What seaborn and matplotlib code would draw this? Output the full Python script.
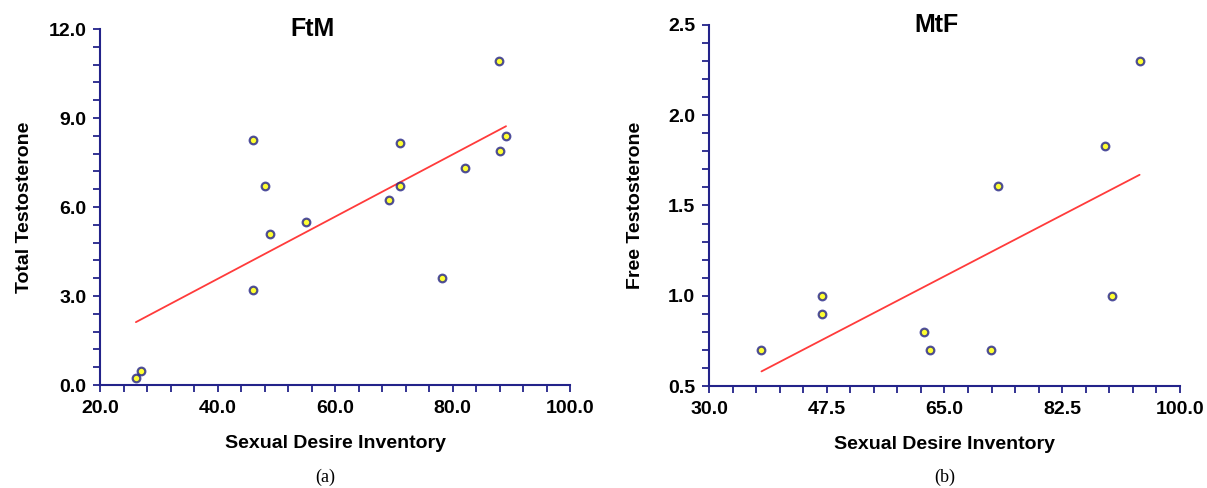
import matplotlib
matplotlib.use("Agg")
import matplotlib.pyplot as plt
import seaborn as sns
import pandas as pd
from matplotlib.ticker import MultipleLocator, FormatStrFormatter

# FtM panel: sexual desire inventory vs total testosterone
ftm_sdi = [26.1, 26.9, 46.0, 46.0, 48.0, 49.0, 55.1, 69.1, 71.1, 71.1, 78.2, 82.2, 88.1, 89.1, 87.9]
ftm_tt = [0.23, 0.46, 8.25, 3.22, 6.70, 5.10, 5.48, 6.24, 8.17, 6.70, 3.61, 7.31, 7.88, 8.39, 10.92]

# MtF panel: sexual desire inventory vs free testosterone
mtf_sdi = [37.8, 46.8, 46.8, 61.9, 62.9, 71.9, 72.9, 88.9, 89.9, 94.0]
mtf_ft = [0.70, 1.00, 0.90, 0.80, 0.70, 0.70, 1.61, 1.83, 1.00, 2.30]

df_ftm = pd.DataFrame({"sdi": ftm_sdi, "t": ftm_tt})
df_mtf = pd.DataFrame({"sdi": mtf_sdi, "t": mtf_ft})

sns.set_style("ticks", {"text.color": "black", "xtick.color": "black", "ytick.color": "black",
                        "axes.labelcolor": "black"})
plt.rcParams["font.family"] = ["Liberation Sans", "DejaVu Sans"]

navy = "#23238a"

fig = plt.figure(figsize=(12.07, 4.88), dpi=100)
ax1 = fig.add_axes([0.0829, 0.211, 0.3894, 0.7295])
ax2 = fig.add_axes([0.5874, 0.209, 0.3902, 0.740])

# ax, data, title, ylabel, xlim, ylim, x major, x minor, y major, y minor, title x, ylabel pad
panels = [
    (ax1, df_ftm, "FtM", "Total Testosterone", (20, 100), (0, 12), 20, 4, 3, 0.6, 0.453, 11),
    (ax2, df_mtf, "MtF", "Free Testosterone", (30, 100), (0.5, 2.5), 17.5, 3.5, 0.5, 0.1, 0.484, 17),
]

for ax, d, title, ylab, xlim, ylim, xmaj, xmin, ymaj, ymin, tx, ypad in panels:
    sns.regplot(data=d, x="sdi", y="t", ax=ax, ci=None,
                scatter_kws={"s": 30, "facecolor": "#ffff00", "edgecolor": navy,
                             "linewidths": 1.6, "zorder": 3},
                line_kws={"color": "#ff3b3b", "lw": 1.3})
    ax.set_xlim(*xlim)
    ax.set_ylim(*ylim)
    ax.xaxis.set_major_locator(MultipleLocator(xmaj, offset=xlim[0]))
    ax.xaxis.set_minor_locator(MultipleLocator(xmin, offset=xlim[0]))
    ax.yaxis.set_major_locator(MultipleLocator(ymaj, offset=ylim[0]))
    ax.yaxis.set_minor_locator(MultipleLocator(ymin, offset=ylim[0]))
    ax.xaxis.set_major_formatter(FormatStrFormatter("%.1f"))
    ax.yaxis.set_major_formatter(FormatStrFormatter("%.1f"))
    sns.despine(ax=ax)
    for s in ("left", "bottom"):
        ax.spines[s].set_color(navy)
        ax.spines[s].set_linewidth(1.5)
    ax.tick_params(which="both", direction="out", length=5, width=1.3, color=navy,
                   labelcolor="black")
    ax.tick_params(axis="x", which="major", labelsize=14, pad=6)
    ax.tick_params(axis="y", which="major", labelsize=14, pad=5)
    for lab in ax.get_xticklabels() + ax.get_yticklabels():
        lab.set_fontweight("bold")
    ax.set_xlabel("Sexual Desire Inventory", fontsize=14, fontweight="bold", labelpad=13,
                  color="black")
    ax.set_ylabel(ylab, fontsize=14, fontweight="bold", labelpad=ypad, color="black")
    ax.text(tx, 1.0, title, transform=ax.transAxes, ha="center", va="center",
            fontsize=18, fontweight="bold", color="black")
    for c in ax.collections:
        c.set_clip_on(False)

fig.text(325 / 1207, 1 - 477 / 488, "(a)", ha="center", va="center",
         fontsize=13, family=["Liberation Serif", "DejaVu Serif"], color="black")
fig.text(945 / 1207, 1 - 477 / 488, "(b)", ha="center", va="center",
         fontsize=13, family=["Liberation Serif", "DejaVu Serif"], color="black")

fig.savefig("out.png", dpi=100)
